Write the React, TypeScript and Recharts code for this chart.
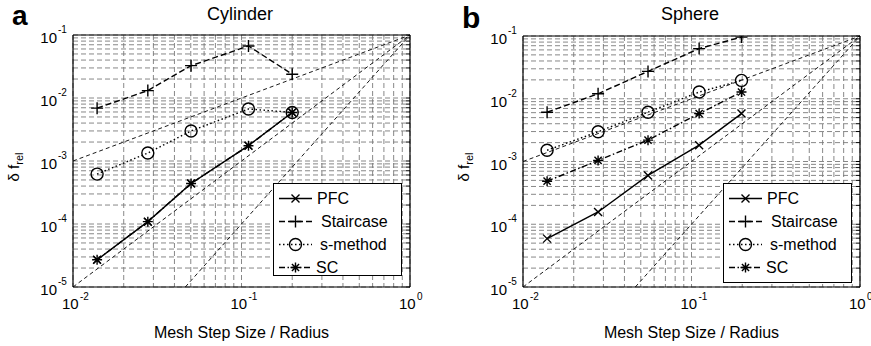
import React from 'react';
import { ScatterChart, Scatter, XAxis, YAxis, CartesianGrid, Legend } from 'recharts';

const FONT = '"Liberation Sans", Arial, Helvetica, sans-serif';

// axis ticks (log decades and the 1..9 steps inside each decade)
const decadesX = [0.01, 0.1];
const decadesY = [1e-5, 1e-4, 1e-3, 1e-2];
const mantissas = [1, 2, 3, 4, 5, 6, 7, 8, 9];
const xTicks = [...decadesX.flatMap(d => mantissas.map(m => m * d)), 1];
const yTicks = [...decadesY.flatMap(d => mantissas.map(m => m * d)), 0.1];

// panel a: cylinder
const cylX = [0.0139, 0.0278, 0.0502, 0.11, 0.2];
const cylPFC = [2.7e-5, 1.09e-4, 4.4e-4, 1.75e-3, 5.9e-3];
const cylStaircase = [0.0069, 0.0131, 0.0326, 0.067, 0.0238];
const cylSMethod = [6.2e-4, 1.34e-3, 3.0e-3, 6.7e-3, 5.9e-3];
const cylSC = [2.7e-5, 1.09e-4, 4.4e-4, 1.75e-3, 5.9e-3];

// panel b: sphere
const sphX = [0.0139, 0.0279, 0.0552, 0.111, 0.198];
const sphPFC = [5.9e-5, 1.57e-4, 6.0e-4, 1.82e-3, 5.8e-3];
const sphStaircase = [0.0061, 0.012, 0.0273, 0.063, 0.096];
const sphSMethod = [1.51e-3, 2.98e-3, 6.1e-3, 0.0128, 0.0196];
const sphSC = [4.85e-4, 1.04e-3, 2.19e-3, 5.8e-3, 0.0128];

// slope 1, 2, 3 guide lines (end points)
const guideX = [[0.01, 1], [0.01, 1], [0.0464, 1]];
const guideY = [[1e-3, 0.1], [1e-5, 0.1], [1e-5, 0.1]];

const seriesNames = ['PFC', 'Staircase', 's-method', 'SC'];

const styles: Record<string, { marker: string; dash?: string }> = {
  PFC: { marker: 'x' },
  Staircase: { marker: '+', dash: '6 3' },
  's-method': { marker: 'o', dash: '1.5 2.5' },
  SC: { marker: '*', dash: '6 2.5 1.5 2.5' },
};

const legendTextX: Record<string, number> = { PFC: 44, Staircase: 48, 's-method': 47, SC: 43 };

const zip = (xs: number[], ys: number[]) => xs.map((x, i) => ({ x, y: ys[i] }));

const LW = 1.4;

const Marker = ({ kind, cx, cy }: { kind: string; cx: number; cy: number }) => {
  const s = { stroke: '#000', strokeWidth: LW, fill: 'none' };
  if (kind === 'x') {
    const r = 4;
    return <path {...s} d={`M${cx - r},${cy - r}L${cx + r},${cy + r}M${cx - r},${cy + r}L${cx + r},${cy - r}`} />;
  }
  if (kind === '+') {
    const r = 6;
    return <path {...s} d={`M${cx - r},${cy}L${cx + r},${cy}M${cx},${cy - r}L${cx},${cy + r}`} />;
  }
  if (kind === 'o') return <circle {...s} cx={cx} cy={cy} r={6} />;
  const r = 5;
  const d = 3.6;
  return (
    <path
      {...s}
      d={`M${cx - r},${cy}L${cx + r},${cy}M${cx},${cy - r}L${cx},${cy + r}M${cx - d},${cy - d}L${cx + d},${cy + d}M${cx - d},${cy + d}L${cx + d},${cy - d}`}
    />
  );
};

const isDecade = (v: number) => Math.abs(Math.log10(v) - Math.round(Math.log10(v))) < 1e-6;

const YTick = (props: any) => {
  const { x, y, payload } = props;
  if (!isDecade(payload.value)) return <g />;
  const e = Math.round(Math.log10(payload.value));
  return (
    <g fontFamily={FONT} fill="#000">
      <text x={x - 16} y={y + 8} fontSize={15} textAnchor="end">10</text>
      <text x={x - 15} y={y - 2} fontSize={10}>{e}</text>
    </g>
  );
};

const XTick = (props: any) => {
  const { x, y, payload } = props;
  if (!isDecade(payload.value)) return <g />;
  const e = Math.round(Math.log10(payload.value));
  return (
    <g fontFamily={FONT} fill="#000">
      <text x={x - 11} y={y + 22} fontSize={15}>10</text>
      <text x={x + 7} y={y + 13} fontSize={10}>{e}</text>
    </g>
  );
};

const LegendBox = ({ payload, height }: any) => {
  const names = seriesNames.filter(n => (payload || []).some((p: any) => p.value === n));
  return (
    <svg width={129} height={height} style={{ display: 'block' }}>
      <rect x={0.5} y={0.5} width={128} height={height - 1} fill="#fff" stroke="#000" />
      {names.map((n, i) => {
        const cy = 15.5 + i * 23;
        return (
          <g key={n}>
            <line x1={6} x2={39} y1={cy} y2={cy} stroke="#000" strokeWidth={LW} strokeDasharray={styles[n].dash} />
            <Marker kind={styles[n].marker} cx={22.5} cy={cy} />
            <text x={legendTextX[n]} y={cy + 5.5} fontSize={16} fontFamily={FONT} fill="#000">{n}</text>
          </g>
        );
      })}
    </svg>
  );
};

type PanelProps = {
  left: number;
  width: number;
  right: number;
  top: number;
  letter: string;
  title: string;
  xs: number[];
  series: number[][];
  legendHeight: number;
};

const Panel = ({ left, width, right, top, letter, title, xs, series, legendHeight }: PanelProps) => (
  <div style={{ position: 'absolute', left, top: 0, width, height: 346 }}>
    <ScatterChart width={width} height={346} margin={{ top, right, bottom: 0, left: 0 }}>
      <CartesianGrid stroke="#7a7a7a" strokeWidth={0.9} strokeDasharray="5 3" />
      <XAxis
        dataKey="x" type="number" scale="log" domain={[0.01, 1]} ticks={xTicks} interval={0}
        allowDataOverflow height={59} tickSize={0} tickMargin={0} tickLine={false}
        axisLine={{ stroke: '#000', strokeWidth: 1.2 }} tick={<XTick />}
        label={{ value: 'Mesh Step Size / Radius', position: 'insideBottom', offset: 8, fill: '#000', fontSize: 16, fontFamily: FONT }}
      />
      <YAxis
        dataKey="y" type="number" scale="log" domain={[1e-5, 0.1]} ticks={yTicks} interval={0}
        allowDataOverflow width={73} tickSize={0} tickMargin={0} tickLine={false}
        axisLine={{ stroke: '#000', strokeWidth: 1.2 }} tick={<YTick />}
        label={{
          content: () => (
            <text x={18.5} y={167} transform="rotate(-90, 18.5, 167)" textAnchor="middle" fontSize={15} fontFamily={FONT} fill="#000">
              δ f<tspan fontSize={11} dy={4}>rel</tspan>
            </text>
          ),
        }}
      />
      <XAxis
        xAxisId="top" orientation="top" mirror type="number" scale="log" domain={[0.01, 1]} ticks={xTicks}
        interval={0} allowDataOverflow tickSize={4} axisLine={{ stroke: '#000', strokeWidth: 1.2 }} tickLine={{ stroke: '#000' }} tick={() => <g />}
      />
      <YAxis
        yAxisId="right" orientation="right" mirror type="number" scale="log" domain={[1e-5, 0.1]} ticks={yTicks}
        interval={0} allowDataOverflow tickSize={4} axisLine={{ stroke: '#000', strokeWidth: 1.2 }} tickLine={{ stroke: '#000' }} tick={() => <g />}
      />
      {guideX.map((gx, i) => (
        <Scatter
          key={'g' + i}
          data={zip(gx, guideY[i])}
          legendType="none"
          isAnimationActive={false}
          fill="#000"
          line={{ stroke: '#000', strokeWidth: 0.9, strokeDasharray: '4 3' }}
          shape={() => <g />}
        />
      ))}
      {seriesNames.map((n, i) => (
        <Scatter
          key={n}
          name={n}
          data={zip(xs, series[i])}
          isAnimationActive={false}
          fill="#000"
          line={{ stroke: '#000', strokeWidth: LW, strokeDasharray: styles[n].dash }}
          shape={(p: any) => <Marker kind={styles[n].marker} cx={p.cx} cy={p.cy} />}
        />
      ))}
      <Legend
        layout="vertical" align="center" verticalAlign="middle"
        wrapperStyle={{ left: 272.7, top: 182.7, width: 129, height: legendHeight }}
        content={(p: any) => <LegendBox {...p} height={legendHeight} />}
      />
    </ScatterChart>
    <svg width={width} height={40} style={{ position: 'absolute', left: 0, top: 0, pointerEvents: 'none' }}>
      <text x={12} y={letter === 'a' ? 25 : 28} fontSize={letter === 'a' ? 28 : 30} fontWeight="bold" fontFamily={FONT}>{letter}</text>
      <text x={240} y={20} fontSize={18} textAnchor="middle" fontFamily={FONT}>{title}</text>
    </svg>
  </div>
);

export default function App() {
  return (
    <div style={{ position: 'absolute', left: 0, top: 0, width: 871, height: 346, background: '#fff', overflow: 'hidden' }}>
      <Panel
        left={0} width={435} right={25} top={35} letter="a" title="Cylinder"
        xs={cylX} series={[cylPFC, cylStaircase, cylSMethod, cylSC]} legendHeight={93}
      />
      <Panel
        left={450} width={421} right={11} top={36} letter="b" title="Sphere"
        xs={sphX} series={[sphPFC, sphStaircase, sphSMethod, sphSC]} legendHeight={100}
      />
    </div>
  );
}
